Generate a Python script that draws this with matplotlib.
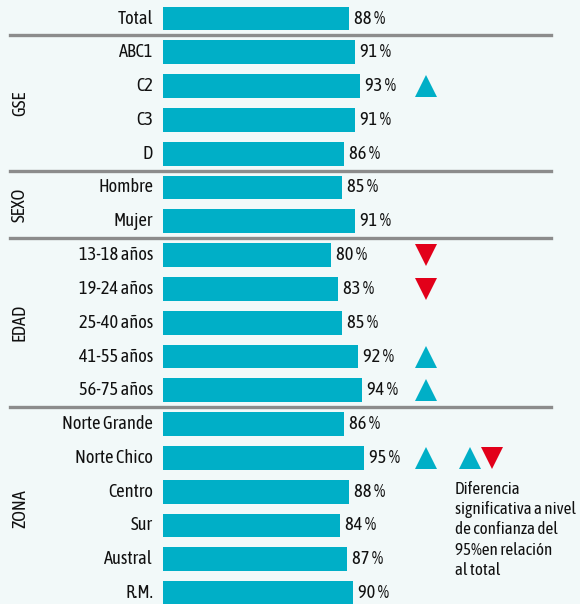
import numpy as np
import matplotlib
matplotlib.use('Agg')
import matplotlib.pyplot as plt

# data
labels = ['Total', 'ABC1', 'C2', 'C3', 'D', 'Hombre', 'Mujer',
          '13-18 años', '19-24 años', '25-40 años', '41-55 años', '56-75 años',
          'Norte Grande', 'Norte Chico', 'Centro', 'Sur', 'Austral', 'R.M.']
values = [88, 91, 93, 91, 86, 85, 91, 80, 83, 85, 92, 94, 86, 95, 88, 84, 87, 90]
# +1 significantly above total, -1 below, 0 none
signif = [0, 0, 1, 0, 0, 0, 0, -1, -1, 0, 1, 1, 0, 1, 0, 0, 0, 0]
groups = ['GSE', 'SEXO', 'EDAD', 'ZONA']
group_rows = [(1, 4), (5, 6), (7, 11), (12, 17)]
legend_text = 'Diferencia\nsignificativa a nivel\nde confianza del\n95%en relación\nal total'

BG = '#F2F9F9'
BLUE = '#00AFC7'
RED = '#E2001A'
GREY = '#8C8C8C'
TXT = '#111111'

plt.rcParams['font.family'] = ['Asap Condensed', 'DejaVu Sans']
FS = 13.2

W, H = 580, 604
PX = 2.18          # pixels per percentage point
ZERO = 157         # pixel x of 0 %
BASE = 2.75        # bars visibly start a bit past zero

fig = plt.figure(figsize=(W / 100, H / 100), dpi=100, facecolor=BG)
ax = fig.add_axes([0, 0, 1, 1])
ax.set_facecolor(BG)
ax.set_xlim(-ZERO / PX, (W - ZERO) / PX)
ax.set_ylim((H - 18.5) / 33.8, -18.5 / 33.8)
ax.axis('off')

y = np.arange(len(labels))
vals = np.array(values)
ax.barh(y, vals - BASE, left=BASE, height=0.71, color=BLUE)

ytr = ax.get_yaxis_transform()
for i, (lab, v) in enumerate(zip(labels, values)):
    ax.text(153 / W, i, lab, transform=ytr, ha='right', va='center',
            fontsize=FS, color=TXT)
    ax.annotate(f'{v} %', (v, i), xytext=(3.6, 0), textcoords='offset points',
                ha='left', va='center', fontsize=FS, color=TXT)

up = [i for i, s in enumerate(signif) if s > 0]
down = [i for i, s in enumerate(signif) if s < 0]
ax.plot([426 / W] * len(up), up, '^', ms=16, color=BLUE, mew=0, transform=ytr)
ax.plot([426 / W] * len(down), down, 'v', ms=16, color=RED, mew=0, transform=ytr)

# separators between groups
for g0, g1 in group_rows:
    ax.axhline(g0 - 0.5, xmin=10 / W, xmax=551 / W, color=GREY, lw=2.4)

for name, (g0, g1) in zip(groups, group_rows):
    ax.text(20 / W, (g0 + g1) / 2, name, transform=ytr, rotation=90,
            ha='center', va='center', fontsize=FS, color=TXT)

# legend
ax.plot([470 / W], [13], '^', ms=16, color=BLUE, mew=0, transform=ytr)
ax.plot([492 / W], [13], 'v', ms=16, color=RED, mew=0, transform=ytr)
fig.text(455 / W, 1 - 481 / H, legend_text, ha='left', va='top',
         fontsize=12.3, color=TXT, linespacing=1.25)

fig.savefig('out.png', dpi=100, facecolor=BG)
